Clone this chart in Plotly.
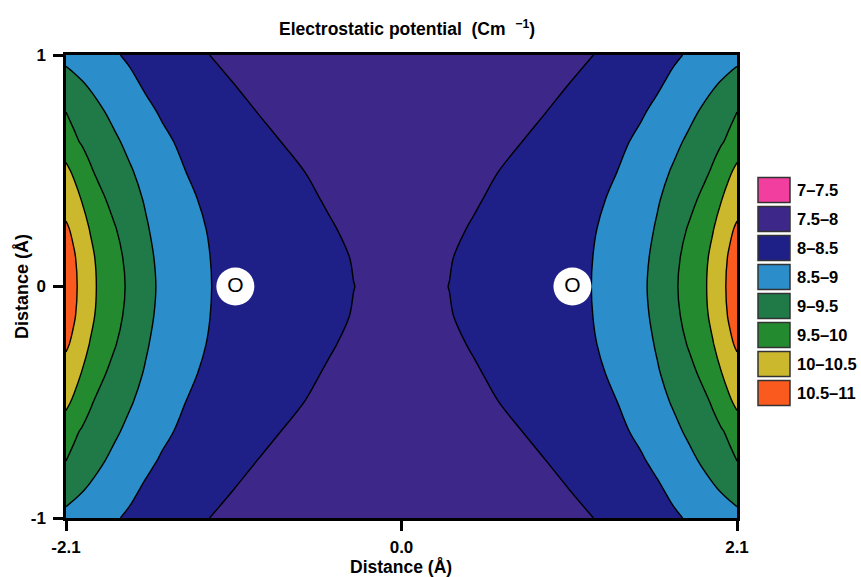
import plotly.graph_objects as go

# Grid coordinates (Å) for the left half, from the left edge to the centre
x_half = [-2.1, -2.05, -2.0, -1.95, -1.9, -1.8, -1.7, -1.6, -1.5, -1.35, -1.2,
          -1.05, -0.9, -0.75, -0.6, -0.45, -0.3, -0.15, 0.0]
# Rows of the upper half, from y = 0 up to y = 1
y_half = [0.0, 0.125, 0.25, 0.375, 0.5, 0.625, 0.75, 0.875, 1.0]

# Electrostatic potential on the upper-left quadrant (one list per y row)
pot_y0000 = [10.800, 10.584, 10.374, 10.139, 9.965, 9.689, 9.419, 9.132, 8.921, 8.675,
             8.509, 8.393, 8.291, 8.200, 8.122, 8.056, 8.002, 7.966, 7.950]
pot_y0125 = [10.740, 10.541, 10.337, 10.105, 9.930, 9.649, 9.379, 9.100, 8.900, 8.666,
             8.503, 8.383, 8.278, 8.186, 8.105, 8.045, 7.991, 7.946, 7.930]
pot_y0250 = [10.560, 10.413, 10.158, 9.983, 9.808, 9.541, 9.271, 9.039, 8.844, 8.635,
             8.475, 8.357, 8.252, 8.160, 8.082, 8.017, 7.960, 7.924, 7.910]
pot_y0375 = [10.330, 10.151, 9.983, 9.816, 9.630, 9.370, 9.148, 8.963, 8.783, 8.574,
             8.424, 8.303, 8.198, 8.109, 8.036, 7.978, 7.933, 7.903, 7.890]
pot_y0500 = [10.080, 9.936, 9.730, 9.552, 9.422, 9.215, 9.040, 8.849, 8.688, 8.498,
             8.366, 8.248, 8.148, 8.064, 7.996, 7.942, 7.898, 7.868, 7.855]
pot_y0625 = [9.800, 9.575, 9.462, 9.366, 9.270, 9.078, 8.889, 8.723, 8.583, 8.415,
             8.275, 8.160, 8.068, 7.998, 7.949, 7.907, 7.876, 7.856, 7.849]
pot_y0750 = [9.510, 9.397, 9.289, 9.186, 9.087, 8.901, 8.736, 8.590, 8.464, 8.301,
             8.169, 8.069, 7.999, 7.950, 7.910, 7.878, 7.856, 7.842, 7.838]
pot_y0875 = [9.200, 9.115, 9.033, 8.952, 8.874, 8.724, 8.582, 8.448, 8.330, 8.183,
             8.074, 8.001, 7.950, 7.907, 7.873, 7.847, 7.831, 7.822, 7.819]
pot_y1000 = [8.870, 8.813, 8.757, 8.702, 8.647, 8.541, 8.439, 8.341, 8.249, 8.118,
             7.999, 7.893, 7.800, 7.722, 7.658, 7.608, 7.573, 7.551, 7.544]
quadrant = [pot_y0000, pot_y0125, pot_y0250, pot_y0375, pot_y0500,
            pot_y0625, pot_y0750, pot_y0875, pot_y1000]

# Oxygen atom positions
atom_x = [-1.04, 1.07]
atom_y = [0.0, 0.0]
atom_labels = ["O", "O"]

# Contour bands
band_labels = ["7–7.5", "7.5–8", "8–8.5", "8.5–9", "9–9.5", "9.5–10", "10–10.5", "10.5–11"]
band_colors = ["#f23e9e", "#3d2788", "#1f1f88", "#2b8dca", "#1f7a48", "#248a30",
               "#cbb82c", "#fb5a1f"]
z_lo, z_hi, step = 7.0, 11.0, 0.5

x_ticks = [-2.1, 0.0, 2.1]
x_ticklabels = ["-2.1", "0.0", "2.1"]
y_ticks = [-1, 0, 1]
y_ticklabels = ["-1", "0", "1"]

# The field is mirror-symmetric about x = 0 and y = 0: build the full grid
x_grid = x_half + [-v for v in x_half[-2::-1]]
y_grid = [-v for v in y_half[:0:-1]] + y_half
rows_upper = [r + r[-2::-1] for r in quadrant]
potential = rows_upper[:0:-1] + rows_upper

n = len(band_colors)
colorscale = []
for i, c in enumerate(band_colors):
    colorscale.append([i / n, c])
    colorscale.append([(i + 1) / n, c])

fig = go.Figure()
fig.add_trace(go.Contour(
    x=x_grid, y=y_grid, z=potential,
    zmin=z_lo, zmax=z_hi,
    colorscale=colorscale, showscale=False,
    autocontour=False,
    contours=dict(start=z_lo + step, end=z_hi - step, size=step,
                  coloring="fill", showlines=True),
    line=dict(color="black", width=1.4, smoothing=1.0),
    hoverinfo="skip",
))
fig.add_trace(go.Scatter(
    x=atom_x, y=atom_y, mode="markers+text",
    text=atom_labels, textposition="middle center",
    textfont=dict(family="Liberation Sans", size=21, color="black"),
    marker=dict(size=38, color="white", line=dict(width=0)),
    hoverinfo="skip", showlegend=False,
))

# Plot-area geometry in pixels
W, H = 861, 577
L, R, T, B = 66, 737, 55, 518
pw, ph = R - L, B - T

def px_x(p):
    return (p - L) / pw

def px_y(p):
    return (B - p) / ph

BOLD = dict(family="Liberation Sans", color="black", weight="bold")

shapes = []
annotations = []
for i, (lab, col) in enumerate(zip(band_labels, band_colors)):
    cy = 190 + 29 * i
    shapes.append(dict(type="rect", xref="paper", yref="paper",
                       x0=px_x(758), x1=px_x(790),
                       y0=px_y(cy + 12.5), y1=px_y(cy - 12.5),
                       fillcolor=col, line=dict(color="#333333", width=1.5)))
    annotations.append(dict(xref="paper", yref="paper", x=px_x(795), y=px_y(cy),
                            xanchor="left", yanchor="middle", showarrow=False,
                            text=lab, font=dict(size=16.5, **BOLD)))

annotations.append(dict(xref="paper", yref="paper", x=px_x(407), y=px_y(28),
                        xanchor="center", yanchor="middle", showarrow=False,
                        text="Electrostatic potential  (Cm  <sup>−1</sup>)",
                        font=dict(size=17.5, **BOLD)))
annotations.append(dict(xref="paper", yref="paper", x=px_x(401), y=px_y(567),
                        xanchor="center", yanchor="middle", showarrow=False,
                        text="Distance (Å)", font=dict(size=17.5, **BOLD)))
annotations.append(dict(xref="paper", yref="paper", x=px_x(22), y=px_y(287),
                        xanchor="center", yanchor="middle", showarrow=False,
                        textangle=-90,
                        text="Distance (Å)", font=dict(size=18, **BOLD)))

fig.update_layout(
    width=W, height=H,
    margin=dict(l=L, r=W - R, t=T, b=H - B, pad=0),
    paper_bgcolor="white", plot_bgcolor="white",
    shapes=shapes, annotations=annotations,
    showlegend=False,
    font=dict(family="Liberation Sans", color="black"),
)
fig.update_xaxes(
    range=[-2.1, 2.1], tickvals=x_ticks, ticktext=x_ticklabels,
    ticks="outside", ticklen=10, tickwidth=2.5, tickcolor="black",
    ticklabelstandoff=2,
    tickfont=dict(size=17, **BOLD),
    showline=True, linecolor="black", linewidth=2.5, mirror=True,
    showgrid=False, zeroline=False,
)
fig.update_yaxes(
    range=[-1, 1], tickvals=y_ticks, ticktext=y_ticklabels,
    ticks="outside", ticklen=10, tickwidth=2.5, tickcolor="black",
    ticklabelstandoff=4,
    tickfont=dict(size=17, **BOLD),
    showline=True, linecolor="black", linewidth=2.5, mirror=True,
    showgrid=False, zeroline=False,
)

fig.write_html("out.html")
